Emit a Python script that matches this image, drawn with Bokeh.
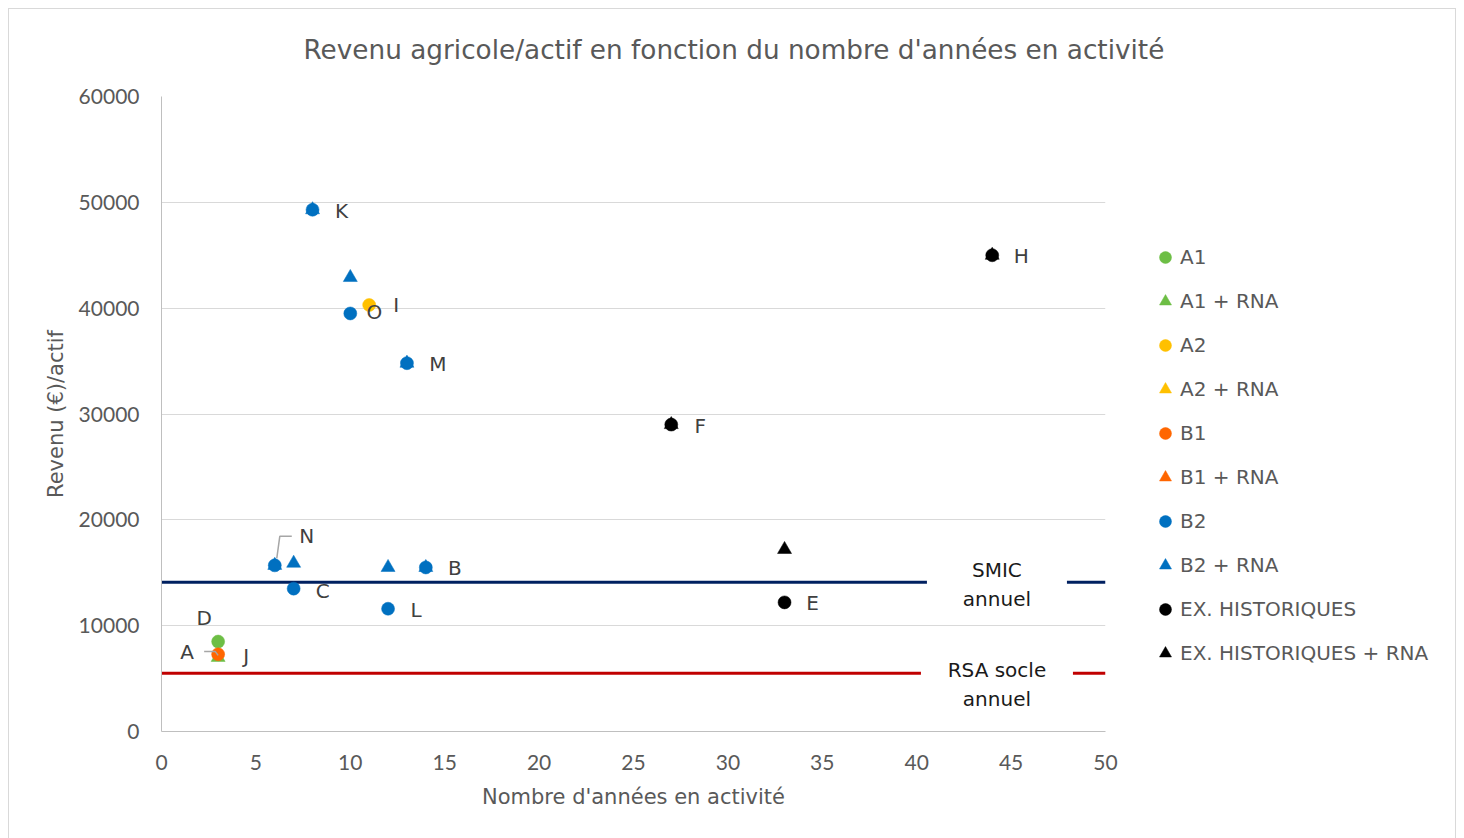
from bokeh.plotting import figure
from bokeh.models import ColumnDataSource, Legend, LegendItem, Range1d, FixedTicker, Title, Span
from bokeh.core.properties import value
from bokeh.embed import file_html
from bokeh.resources import INLINE

# ---------------- data ----------------
title_text = "Revenu agricole/actif en fonction du nombre d'années en activité"
x_title = "Nombre d'années en activité"
y_title = "Revenu (€)/actif"

x_ticks = [0, 5, 10, 15, 20, 25, 30, 35, 40, 45, 50]
y_ticks = [0, 10000, 20000, 30000, 40000, 50000, 60000]

a1_x = [3]
a1_y = [8500]
a1_rna_x = [3]
a1_rna_y = [7000]
a2_x = [11]
a2_y = [40300]
a2_rna_x = []
a2_rna_y = []
b1_x = [3]
b1_y = [7300]
b1_rna_x = []
b1_rna_y = []
b2_x = [8, 10, 13, 6, 7, 14, 12]
b2_y = [49300, 39500, 34800, 15700, 13500, 15500, 11600]
b2_rna_x = [8, 10, 13, 6, 7, 12, 14]
b2_rna_y = [49300, 42900, 34800, 15700, 15900, 15500, 15500]
ex_x = [27, 44, 33]
ex_y = [29000, 45000, 12200]
ex_rna_x = [27, 44, 33]
ex_rna_y = [29000, 45000, 17200]

smic_value = 14100
rsa_value = 5500
smic_text = "SMIC\nannuel"
rsa_text = "RSA socle\nannuel"

label_names = ["K", "O", "I", "M", "F", "H", "N", "C", "B", "L", "D", "A", "J", "E"]
label_x = [8, 10, 11, 13, 27, 44, 6, 7, 14, 12, 3, 3, 3, 33]
label_y = [49300, 39500, 40300, 34800, 29000, 45000, 15700, 13500, 15500, 11600, 8500, 7000, 7300, 12200]

# ---------------- styles ----------------
label_dx = [29, 24, 27, 31, 29, 29, 32, 29, 29, 28, -14, -31, 28, 28]
label_dy = [1, -1, 0, 1, 1, 1, -29, 2, 1, 1, -24, -5, 2, 1]

X0, X1, Y0, Y1 = 0, 50, 0, 60000
FRAME_W, FRAME_H = 944, 635
px_x = FRAME_W / (X1 - X0)
px_y = FRAME_H / (Y1 - Y0)

GREEN = "#6DBE45"
YELLOW = "#FFC000"
ORANGE = "#FF6600"
BLUE = "#0070C0"
BLACK = "#000000"
TXT = "#595959"
SANS = "DejaVu Sans"

p = figure(frame_width=FRAME_W, frame_height=FRAME_H, output_backend="svg", toolbar_location=None,
           x_range=Range1d(X0, X1), y_range=Range1d(Y0, Y1),
           min_border_left=152, min_border_right=300, min_border_top=87, min_border_bottom=108)
p.styles = {"margin-left": "8px", "margin-top": "8px", "border": "1px solid #d9d9d9",
            "max-width": "1448px", "overflow": "hidden"}
p.outline_line_color = None
p.background_fill_color = "white"
p.border_fill_color = "white"

# a blank second line lifts the title away from the plot area
p.title = Title(text=title_text + "\n ", align="left", offset=142, standoff=4,
                text_font=SANS, text_font_size="26.3px", text_font_style="normal", text_color=TXT)

# axes
for ax in (p.xaxis[0], p.yaxis[0]):
    ax.axis_line_color = "#bfbfbf"
    ax.axis_line_width = 1
    ax.major_tick_line_color = None
    ax.minor_tick_line_color = None
    ax.major_tick_out = 0
    ax.major_label_text_font = "Lato"
    ax.major_label_text_font_size = "21px"
    ax.major_label_text_color = TXT
    ax.axis_label_text_font = SANS
    ax.axis_label_text_font_size = "21px"
    ax.axis_label_text_font_style = "normal"
    ax.axis_label_text_color = TXT
p.xaxis.ticker = FixedTicker(ticks=x_ticks)
p.yaxis.ticker = FixedTicker(ticks=y_ticks)
p.xaxis.major_label_standoff = 23
p.yaxis.major_label_standoff = 22
p.xaxis.axis_label = x_title
p.yaxis.axis_label = y_title
p.xaxis.axis_label_standoff = 12
p.yaxis.axis_label_standoff = 8

p.xgrid.grid_line_color = None
p.ygrid.grid_line_color = "#d9d9d9"
p.ygrid.grid_line_width = 1
p.ygrid.ticker = FixedTicker(ticks=y_ticks)

# reference lines
p.add_layout(Span(location=smic_value, dimension="width", line_color="#002060", line_width=3, level="underlay"))
p.add_layout(Span(location=rsa_value, dimension="width", line_color="#C00000", line_width=3, level="underlay"))

# series
series = [
    ("A1", a1_x, a1_y, "circle", GREEN),
    ("A1 + RNA", a1_rna_x, a1_rna_y, "triangle", GREEN),
    ("A2", a2_x, a2_y, "circle", YELLOW),
    ("A2 + RNA", a2_rna_x, a2_rna_y, "triangle", YELLOW),
    ("B1", b1_x, b1_y, "circle", ORANGE),
    ("B1 + RNA", b1_rna_x, b1_rna_y, "triangle", ORANGE),
    ("B2", b2_x, b2_y, "circle", BLUE),
    ("B2 + RNA", b2_rna_x, b2_rna_y, "triangle", BLUE),
    ("EX. HISTORIQUES", ex_x, ex_y, "circle", BLACK),
    ("EX. HISTORIQUES + RNA", ex_rna_x, ex_rna_y, "triangle", BLACK),
]
items = []
nan = float("nan")
for name, xs, ys, marker, color in series:
    # an empty series keeps one not-drawn (NaN) row so that its legend swatch is still shown
    src = ColumnDataSource(dict(x=list(xs) or [nan], y=list(ys) or [nan]))
    size = 13 if marker == "circle" else 14
    r = p.scatter("x", "y", source=src, marker=marker, size=size,
                  fill_color=color, line_color=color, line_width=0.5)
    items.append(LegendItem(label=name, renderers=[r]))

# leader lines (offsets in px relative to the labelled point)
leaders = {"N": [(2, -7), (5, -29), (17, -29)], "A": [(-14, -6), (-3, -6), (0, -2)]}
for nm, pts in leaders.items():
    i = label_names.index(nm)
    lx = [label_x[i] + dx / px_x for dx, dy in pts]
    ly = [label_y[i] - dy / px_y for dx, dy in pts]
    p.line(lx, ly, line_color="#a6a6a6", line_width=1.5)

# data labels
lab_src = ColumnDataSource(dict(x=label_x, y=label_y, text=label_names, dx=label_dx, dy=label_dy))
p.text("x", "y", text="text", source=lab_src, x_offset="dx", y_offset="dy",
       text_align="center", text_baseline="middle", text_font=value(SANS),
       text_font_size="20px", text_color="#404040")

# SMIC / RSA labels with white boxes
box_x = 44.25
p.rect(x=[box_x], y=[smic_value - 2 / px_y], width=140, height=58, width_units="screen",
       height_units="screen", fill_color="white", line_color=None)
p.rect(x=[box_x], y=[rsa_value - 11 / px_y], width=152, height=60, width_units="screen",
       height_units="screen", fill_color="white", line_color=None)
p.text(x=[box_x, box_x], y=[smic_value, rsa_value], text=[smic_text, rsa_text],
       y_offset=[2, 11], text_align="center", text_baseline="middle",
       text_font=value(SANS), text_font_size="20px", text_color="#1a1a1a", text_line_height=1.2)

legend = Legend(items=items, location=(45, 63), orientation="vertical",
                glyph_width=30, glyph_height=30, label_height=30, spacing=14,
                label_standoff=-4, padding=0, margin=0,
                border_line_color=None, background_fill_alpha=0,
                label_text_font=SANS, label_text_font_size="20px", label_text_color=TXT)
p.add_layout(legend, "right")

open("out.html", "w").write(file_html(p, INLINE))
